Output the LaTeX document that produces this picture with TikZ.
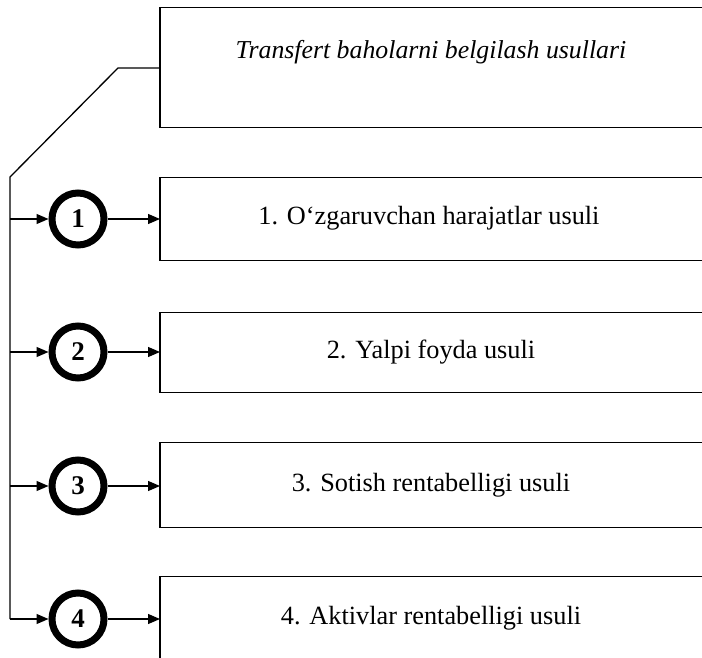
\documentclass[tikz,border=0pt]{standalone}
\usepackage{fontspec}
\setmainfont{Liberation Serif}
\usetikzlibrary{arrows.meta}
\begin{document}
\begin{tikzpicture}[x=1pt,y=-1pt,
  boxtext/.style={minimum width=560pt,anchor=west,inner sep=0pt},
  lbl/.style={font=\fontsize{26.3}{28}\selectfont},
  numcirc/.style={circle,draw,line width=7pt,minimum size=52pt,inner sep=0pt,font=\bfseries\fontsize{27}{28}\selectfont},
  conn/.style={line width=1.3pt},
  arr/.style={conn,-{Triangle[length=12pt,width=10pt]}},
  edge/.style={line width=1.1pt}]
\useasboundingbox (0,0) rectangle (702,658);
\clip (0,0) rectangle (702,658);
% top box
\node[boxtext,minimum height=119pt] (top) at (160,67.5) {};
\node[font=\itshape\fontsize{25.8}{28}\selectfont] (toptxt) at (431,52) {Transfert baholarni belgilash usullari};
\draw[edge] (top.north east) -- (top.north west) -- (top.south west) -- (top.south east);
% method boxes
\node[boxtext,minimum height=82pt] (b1) at (160,219) {};
\node[lbl] (t1) at (429,218) {1. O‘zgaruvchan harajatlar usuli};
\node[boxtext,minimum height=79pt] (b2) at (160,352.5) {};
\node[lbl] (t2) at (431,352) {2. Yalpi foyda usuli};
\node[boxtext,minimum height=84pt] (b3) at (160,485) {};
\node[lbl] (t3) at (431,485) {3. Sotish rentabelligi usuli};
\node[boxtext,minimum height=120pt] (b4) at (160,637) {};
\node[lbl] (t4) at (431,618) {4. Aktivlar rentabelligi usuli};
\foreach \b in {b1,b2,b3}{
  \draw[edge] (\b.north east) -- (\b.north west) -- (\b.south west) -- (\b.south east);
}
\draw[edge] (b4.north east) -- (b4.north west) -- (b4.south west);
% circles
\node[numcirc] (c1) at (78,219) {1};
\node[numcirc] (c2) at (78,352) {2};
\node[numcirc] (c3) at (78,486) {3};
\node[numcirc] (c4) at (78,619) {4};
% trunk
\coordinate (k) at (118,68);
\coordinate (d) at (10,177);
\coordinate (e) at (10,619);
\draw[conn] (top.west |- k) -- (k) -- (d) -- (e);
\foreach \i in {1,2,3,4}{
  \draw[arr] (c\i.west -| d) -- (c\i.west);
  \draw[arr] (c\i.east) -- (c\i.east -| b1.west);
}
\end{tikzpicture}
\end{document}
